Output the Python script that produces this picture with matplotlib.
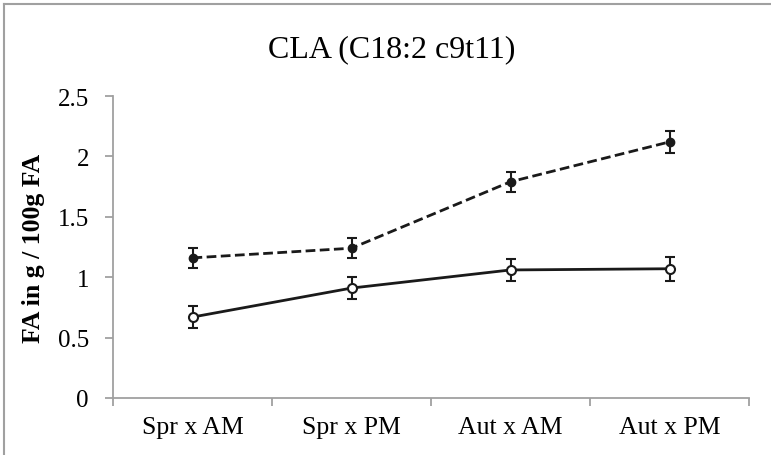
import matplotlib
matplotlib.use("Agg")
import matplotlib.pyplot as plt
from matplotlib.lines import Line2D

categories = ["Spr x AM", "Spr x PM", "Aut x AM", "Aut x PM"]
dashed_vals = [1.16, 1.24, 1.79, 2.12]
dashed_err = [0.085, 0.083, 0.085, 0.09]
solid_vals = [0.67, 0.91, 1.06, 1.07]
solid_err = [0.092, 0.094, 0.09, 0.098]
yticks = [0, 0.5, 1, 1.5, 2, 2.5]
ytick_labels = ["0", "0.5", "1", "1.5", "2", "2.5"]

plt.rcParams['font.family'] = ['Liberation Serif', 'DejaVu Serif']

W, H = 771, 456
fig = plt.figure(figsize=(W / 100, H / 100), dpi=100)
ax = fig.add_axes([113 / W, 1 - 399 / H, (749 - 113) / W, (399 - 97) / H])

x = list(range(len(categories)))
ax.errorbar(x, dashed_vals, yerr=dashed_err, color='#1a1a1a', linestyle=(0, (3.5, 1.6)),
            linewidth=2.0, marker='o', markersize=6, markerfacecolor='#1a1a1a',
            capsize=3.4, elinewidth=1.5, capthick=1.5)
ax.errorbar(x, solid_vals, yerr=solid_err, color='#1a1a1a', linestyle='-',
            linewidth=2.0, marker='o', markersize=6.5, markerfacecolor='white',
            markeredgewidth=1.5, capsize=3.4, elinewidth=1.5, capthick=1.5)

ax.set_xlim(-0.5, len(categories) - 0.5)
ax.set_ylim(0, 2.5)
ax.set_yticks(yticks)
ax.set_yticklabels(ytick_labels, fontsize=18)
ax.set_xticks(x)
ax.set_xticklabels(categories, fontsize=18.5)
ax.set_xticks([i - 0.5 for i in range(len(categories) + 1)], minor=True)
ax.tick_params(axis='x', which='major', length=0, pad=13)
ax.tick_params(axis='x', which='minor', length=5.5, color='#a0a0a0', width=1.3)
ax.tick_params(axis='y', length=5.8, color='#a0a0a0', width=1.3, pad=11.5)

for s in ['top', 'right']:
    ax.spines[s].set_visible(False)
for s in ['left', 'bottom']:
    ax.spines[s].set_color('#a0a0a0')
    ax.spines[s].set_linewidth(1.3)

ax.set_ylabel("FA in g / 100g FA", fontsize=18.5, fontweight='bold', labelpad=9)
fig.text(392 / W, 1 - 57 / H, "CLA (C18:2 c9t11)", ha='center', va='baseline', fontsize=23)

# outer chart-area border (only top and left visible in the reference)
fig.add_artist(Line2D([4 / W, 4 / W], [0, 1 - 5 / H], transform=fig.transFigure,
                      color='#a0a0a0', linewidth=1.5))
fig.add_artist(Line2D([4 / W, 1], [1 - 5 / H, 1 - 5 / H], transform=fig.transFigure,
                      color='#a0a0a0', linewidth=1.5))

fig.savefig("out.png", dpi=100)
